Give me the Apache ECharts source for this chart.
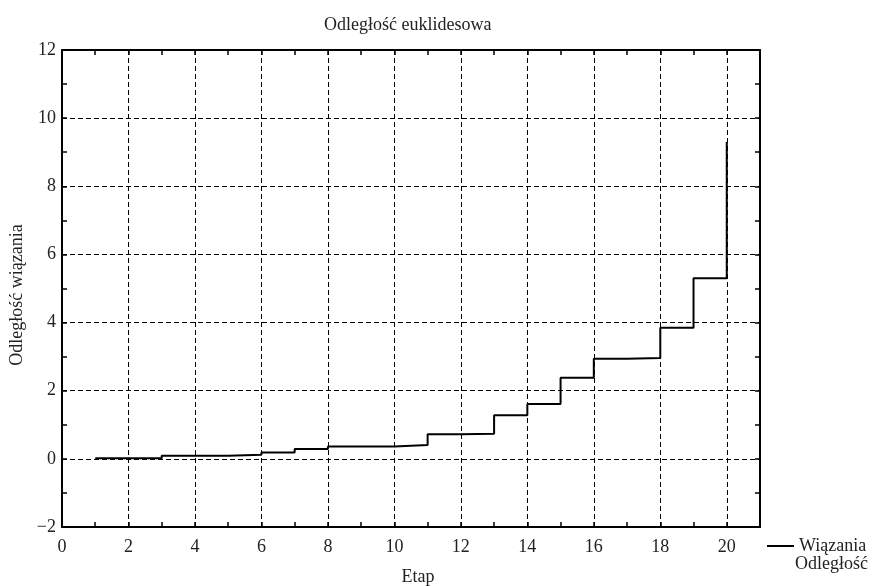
<!DOCTYPE html>
<html>
<head>
<meta charset="utf-8">
<script src="https://cdn.jsdelivr.net/npm/echarts@6/dist/echarts.min.js"></script>
<style>
html,body{margin:0;padding:0;background:#fff;}
#c{width:875px;height:586px;}
</style>
</head>
<body>
<div id="c"></div>
<script>
var stages = [1,2,3,4,5,6,7,8,9,10,11,12,13,14,15,16,17,18,19,20];
var distances = [0.02,0.02,0.09,0.09,0.12,0.19,0.29,0.36,0.36,0.41,0.72,0.74,1.28,1.61,2.38,2.94,2.96,3.85,5.30,9.30];
var titleText = 'Odległość euklidesowa';
var xName = 'Etap';
var yName = 'Odległość wiązania';
var legendLine1 = 'Wiązania';
var legendLine2 = 'Odległość';

var font = 'Liberation Serif';
var chart = echarts.init(document.getElementById('c'));
var pairs = stages.map(function(s,i){return [s, distances[i]];});

function axisCommon(extra){
  var base = {
    axisLine:{show:true, onZero:false, lineStyle:{color:'#000', width:2}},
    axisTick:{show:true, inside:true, length:5, lineStyle:{color:'#000', width:1.5}},
    minorTick:{show:true, splitNumber:2, length:5, lineStyle:{color:'#000', width:1.5}},
    splitLine:{show:false},
    axisLabel:{show:false}
  };
  for (var k in extra) base[k] = extra[k];
  return base;
}

chart.setOption({
  animation:false,
  backgroundColor:'#fff',
  title:{
    text:titleText, left:319, top:11,
    textStyle:{fontFamily:font, fontSize:18, fontWeight:'normal', color:'#222'}
  },
  grid:{left:62, right:115, top:50, bottom:59, containLabel:false, outerBoundsMode:'none'},
  legend:{
    data:[legendLine1], left:762, top:532, icon:'rect',
    itemWidth:27, itemHeight:2, itemGap:5,
    textStyle:{fontFamily:font, fontSize:18, color:'#222'},
    selectedMode:false
  },
  graphic:[{
    type:'text', right:7, top:555,
    style:{text:legendLine2, font:'18px "Liberation Serif"', fill:'#222'}
  }],
  xAxis:[
    axisCommon({
      type:'value', min:0, max:21, interval:2, position:'bottom',
      name:xName, nameLocation:'middle', nameGap:41,
      nameTextStyle:{fontFamily:font, fontSize:18, color:'#222', padding:[0,0,0,14]},
      axisLabel:{show:true, showMaxLabel:false, margin:11, fontFamily:font, fontSize:18, color:'#222'},
      splitLine:{show:true, lineStyle:{color:'#000', width:1, type:[5,3]}}
    }),
    axisCommon({type:'value', min:0, max:21, interval:2, position:'top'})
  ],
  yAxis:[
    axisCommon({
      type:'value', min:-2, max:12, interval:2, position:'left',
      name:yName, nameLocation:'middle', nameGap:32,
      nameTextStyle:{fontFamily:font, fontSize:18, color:'#222', padding:[0,13,0,0]},
      axisLabel:{show:true, margin:6, fontFamily:font, fontSize:18, color:'#222',
        formatter:function(v){return String(v).replace('-', '\u2212');}},
      splitLine:{show:true, lineStyle:{color:'#000', width:1, type:[5,3]}}
    }),
    axisCommon({type:'value', min:-2, max:12, interval:2, position:'right'})
  ],
  series:[{
    name:legendLine1, type:'line', step:'end', data:pairs,
    xAxisIndex:0, yAxisIndex:0,
    symbol:'none', lineStyle:{color:'#000', width:2}, itemStyle:{color:'#000'}
  }]
});
</script>
</body>
</html>
